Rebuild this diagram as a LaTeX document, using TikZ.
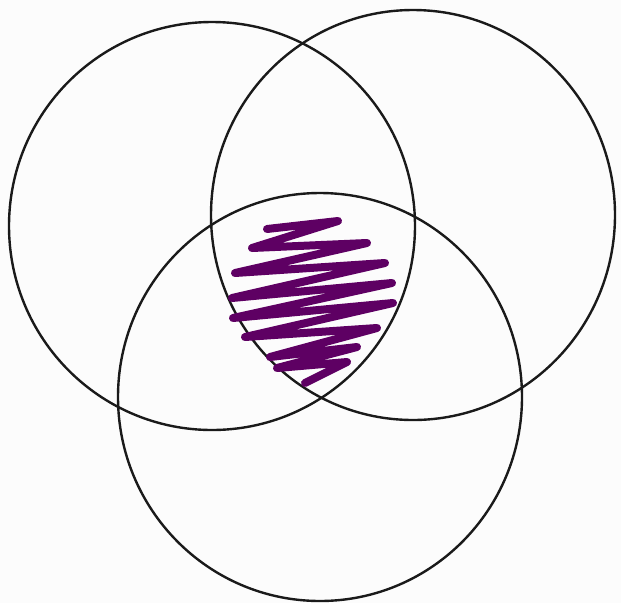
\documentclass[tikz,border=0pt]{standalone}
\definecolor{bgcol}{HTML}{FCFCFC}
\definecolor{ringcol}{HTML}{1A1A1A}
\definecolor{scribble}{HTML}{5E0063}
\tikzset{
  ring/.style={draw=ringcol, line width=2.4pt},
  shade/.style={draw=scribble, line width=8pt, line cap=round, line join=round}
}
\begin{document}
\begin{tikzpicture}[x=1pt, y=-1pt]
  \fill[bgcol] (0,0) rectangle (621,603);
  \useasboundingbox (0,0) rectangle (621,603);
  % three sets
  \draw[ring] (212,226) ellipse [x radius=203, y radius=204];
  \draw[ring] (413,215) ellipse [x radius=202, y radius=205];
  \draw[ring] (320,397) ellipse [x radius=202, y radius=204];
  % scribble over the common region
  \draw[shade] (267,229) -- (338,221) -- (252,248) -- (367,243) -- (235,273)
    -- (385,263) -- (232,298) -- (392,283) -- (233,318) -- (393,303)
    -- (245,337) -- (377,328) -- (270,357) -- (357,347) -- (277,368)
    -- (347,362) -- (305,383);
\end{tikzpicture}
\end{document}
